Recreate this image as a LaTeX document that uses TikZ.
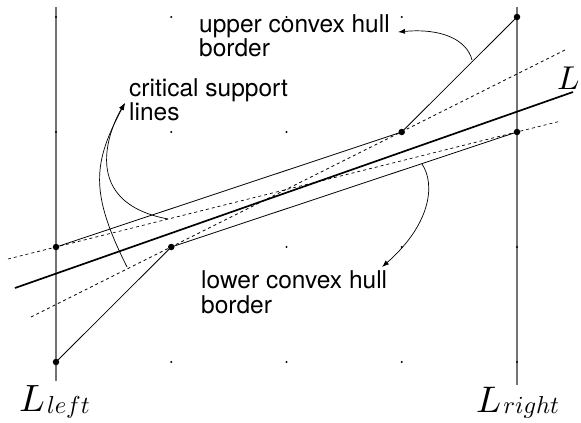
\documentclass[tikz,border=0pt]{standalone}
\usepackage{fontspec}
\newfontfamily\labfont{TeX Gyre Heros}
\usetikzlibrary{arrows.meta}
\DeclareFontShape{OML}{cmm}{m}{it}{<-> cmmi10}{\skewchar\font'177}
\newcommand{\mainL}[1]{{\fontsize{#1}{#1}\selectfont$L$}}
\newcommand{\subL}[1]{\kern2pt\raisebox{-1.5pt}{\fontsize{24.5}{25}\selectfont$#1$}}
\begin{document}
\begin{tikzpicture}[x=1pt,y=-1pt,
  vline/.style={draw=black!55, line width=1.4pt},
  hull/.style={draw=black, line width=0.8pt},
  supp/.style={draw=black, dash pattern=on 3pt off 3pt, line width=0.7pt},
  mainline/.style={draw=black, line width=1.7pt},
  gdot/.style={circle, fill=black, inner sep=0pt, minimum size=2.4pt},
  pdot/.style={circle, fill=black, inner sep=0pt, minimum size=6.5pt},
  lbl/.style={font=\labfont, align=left, anchor=north west, inner sep=0pt},
  mlbl/.style={anchor=base west, inner sep=0pt},
  arr/.style={draw=black, -{Latex[length=7pt,width=5pt]}, line width=0.7pt}]
\useasboundingbox (0,0) rectangle (581,423);

% vertical lines
\coordinate (lt) at (56,7);
\coordinate (lb) at (56,381);
\coordinate (rt) at (517,7);
\coordinate (rb) at (517,385);
\draw[vline] (lt) -- (lb);
\draw[vline] (rt) -- (rb);

% grid dots
\foreach \i in {0,...,4}{
  \foreach \j in {0,...,3}{
    \node[gdot] (g\i\j) at ({56+115.25*\i},{17+115*\j}) {};
  }
}

% hull points
\coordinate (u1) at (56,247);
\coordinate (u2) at (401.75,132);
\coordinate (u3) at (517,17);
\coordinate (w1) at (56,362);
\coordinate (w2) at (171.25,247);
\coordinate (w3) at (517,132);

% lines
\coordinate (Ls) at (15,288);
\coordinate (Le) at (573,92);
\coordinate (d1s) at (8,259);
\coordinate (d1e) at (559,121.5);
\coordinate (d2s) at (31,317);
\coordinate (d2e) at (565,50);

\draw[supp] (d1s) -- (d1e);
\draw[supp] (d2s) -- (d2e);
\draw[mainline] (Ls) -- (Le);
\draw[hull] (u1) -- (u2) -- (u3);
\draw[hull] (w1) -- (w2) -- (w3);

\foreach \p in {u1,u2,u3,w1,w2,w3}{ \node[pdot] at (\p) {}; }

% labels
\node[lbl, font=\labfont\fontsize{24.5}{21.6}\selectfont] (upl) at (199,14.5) {upper convex hull\\border};
\node[lbl, font=\labfont\fontsize{24.5}{24}\selectfont] (crl) at (129,78.5) {critical support\\lines};
\node[lbl, font=\labfont\fontsize{24.5}{25}\selectfont] (lol) at (201,270.5) {lower convex hull\\border};

\node[mlbl] (Llab) at (557,89) {\mainL{33}};
\node[mlbl] (Lleft) at (19,411.5) {\mainL{38}\subL{left}};
\node[mlbl] (Lright) at (476,412) {\mainL{37}\subL{right}};

% arrows
\coordinate (ua) at (472,60);
\coordinate (ut) at (398,32);
\draw[arr] (ua) .. controls (467,40) and (442,28) .. (ut);

\coordinate (ca) at (127,267);
\coordinate (cb) at (168,219);
\coordinate (ct) at (125,103);
\draw[arr] (ca) .. controls (90,193) and (92.6,163.6) .. (ct);
\draw[arr] (cb) .. controls (72,201) and (115.7,118) .. (ct);

\coordinate (la) at (422,164);
\coordinate (lt2) at (382,267);
\draw[arr] (la) .. controls (436,185) and (430,225) .. (lt2);
\end{tikzpicture}
\end{document}
